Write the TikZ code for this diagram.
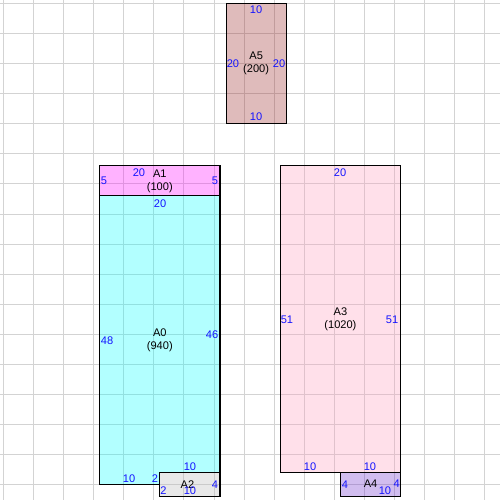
\documentclass[tikz,border=0pt]{standalone}
\usepackage{fontspec}
\setmainfont{Liberation Sans}
\definecolor{gridc}{RGB}{211,211,211}
\definecolor{dimblue}{RGB}{20,20,255}
\definecolor{cA0}{RGB}{0,255,255}
\definecolor{cA1}{RGB}{255,0,255}
\definecolor{cA2}{RGB}{182,182,182}
\definecolor{cA3}{RGB}{255,155,188}
\definecolor{cA4}{RGB}{105,38,205}
\definecolor{cA5}{RGB}{152,32,32}
\begin{document}
\begin{tikzpicture}[x=0.1204cm,y=-0.1204cm,
  font=\fontsize{6.3}{7.4}\selectfont,
  gridline/.style={draw=gridc,line width=0.57pt},
  region/.style={draw=black,line width=0.6pt,fill opacity=0.3},
  dim/.style={text=dimblue,inner sep=0pt},
  nm/.style={text=black,inner sep=0pt,align=center}]
\fill[white] (-0.548,-0.548) rectangle (82.508,82.508);
\useasboundingbox (-0.548,-0.548) rectangle (82.508,82.508);
\foreach \i in {0,5,...,80} {
  \draw[gridline] (\i,-0.548) -- (\i,82.508);
  \draw[gridline] (-0.548,\i) -- (82.508,\i);
}
% regions
\filldraw[region,fill=cA5] (37,0) rectangle (47,20);
\filldraw[region,fill=cA1] (16,27) rectangle (36,32);
\filldraw[region,fill=cA0] (16,32) -- (36,32) -- (36,78) -- (26,78) -- (26,80) -- (16,80) -- cycle;
\filldraw[region,fill=cA2] (26,78) rectangle (36,82);
\filldraw[region,fill=cA3] (46,27) rectangle (66,78);
\filldraw[region,fill=cA4] (56,78) rectangle (66,82);
% names
\node[nm] (nA5) at (42,10) {A5\\(200)};
\node[nm] (nA1) at (26,29.5) {A1\\(100)};
\node[nm] (nA0) at (26,56) {A0\\(940)};
\node[nm] (nA3) at (56,52.5) {A3\\(1020)};
\node[nm] (nA2) at (30.6,80) {A2};
\node[nm] (nA4) at (61,79.8) {A4};
% A5 dims
\node[dim] (a5t) at (42,1.1) {10};
\node[dim] (a5l) at (38.15,10.08) {20};
\node[dim] (a5r) at (45.8,10.08) {20};
\node[dim] (a5b) at (42,18.9) {10};
% A1 dims
\node[dim] (a1t) at (22.54,28.19) {20};
\node[dim] (a1l) at (16.73,29.5) {5};
\node[dim] (a1r) at (35.17,29.5) {5};
% A0 dims
\node[dim] (a0t) at (26.03,33.34) {20};
\node[dim] (a0l) at (17.23,56.1) {48};
\node[dim] (a0r) at (34.67,55.1) {46};
\node[dim] (a0b) at (20.9,79.05) {10};
\node[dim] (a0s) at (25.2,79.0) {2};
\node[dim] (a0i) at (31.0,76.9) {10};
% A2 dims
\node[dim] (a2l) at (26.6,81.0) {2};
\node[dim] (a2b) at (31.0,81.0) {10};
\node[dim] (a2r) at (35.17,80.0) {4};
% A3 dims
\node[dim] (a3t) at (55.93,28.19) {20};
\node[dim] (a3l) at (47.12,52.6) {51};
\node[dim] (a3r) at (64.57,52.6) {51};
\node[dim] (a3b) at (50.95,77.0) {10};
\node[dim] (a3i) at (60.9,77.0) {10};
% A4 dims
\node[dim] (a4l) at (56.76,80.0) {4};
\node[dim] (a4b) at (63.4,81.0) {10};
\node[dim] (a4r) at (65.35,79.8) {4};
\end{tikzpicture}
\end{document}
